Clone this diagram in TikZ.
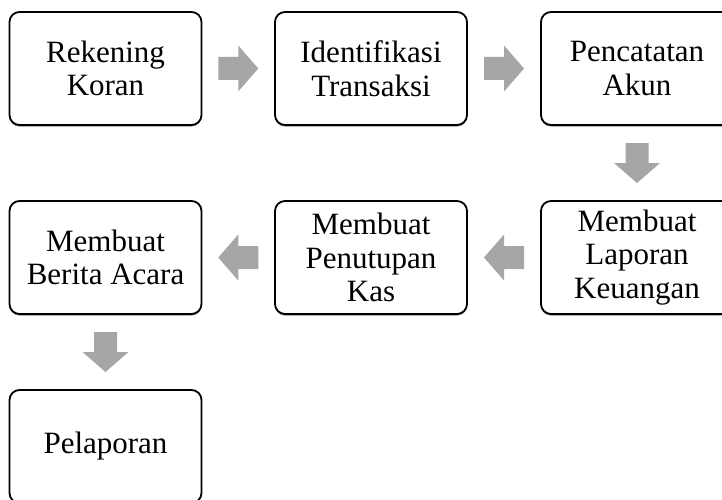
\documentclass[tikz,border=0pt]{standalone}
\usepackage{fontspec}
\setmainfont{Liberation Serif}
\usetikzlibrary{calc,shadows}
\definecolor{arrowgray}{HTML}{A6A6A6}
\tikzset{
  stepbox/.style={draw=black, line width=1.8pt, rounded corners=10pt, fill=white,
    minimum width=192pt, minimum height=113pt, align=center, inner sep=0pt,
    font=\fontsize{31}{33.5}\selectfont,
    drop shadow={shadow xshift=0pt, shadow yshift=-1.6pt, fill=black!45, opacity=1}},
  blockarrow/.pic={
    \fill[arrowgray] (-20pt,-11.5pt) -- (0pt,-11.5pt) -- (0pt,-23pt) -- (20pt,0pt)
      -- (0pt,23pt) -- (0pt,11.5pt) -- (-20pt,11.5pt) -- cycle;
  }
}
\begin{document}
\begin{tikzpicture}[x=1pt,y=-1pt]
\clip (0,0) rectangle (722,500);
\fill[white] (0,0) rectangle (722,500);
\node[stepbox] (b1) at (105.5,68.5) {Rekening\\Koran};
\node[stepbox] (b2) at (371,68.5) {Identifikasi\\Transaksi};
\node[stepbox] (b3) at (637,68.5) {Pencatatan\\Akun};
\node[stepbox] (b6) at (637,257.5) {Membuat\\Laporan\\Keuangan};
\node[stepbox] (b5) at (371,257.5) {Membuat\\Penutupan\\Kas};
\node[stepbox] (b4) at (105.5,257.5) {Membuat\\Berita Acara};
\node[stepbox] (b7) at (105.5,446.5) {Pelaporan};
\pic at ($(b1.east)!0.5!(b2.west)$) {blockarrow};
\pic at ($(b2.east)!0.5!(b3.west)$) {blockarrow};
\pic[rotate=-90] at ($(b3.south)!0.5!(b6.north)$) {blockarrow};
\pic[rotate=180] at ($(b6.west)!0.5!(b5.east)$) {blockarrow};
\pic[rotate=180] at ($(b5.west)!0.5!(b4.east)$) {blockarrow};
\pic[rotate=-90] at ($(b4.south)!0.5!(b7.north)$) {blockarrow};
\end{tikzpicture}
\end{document}
